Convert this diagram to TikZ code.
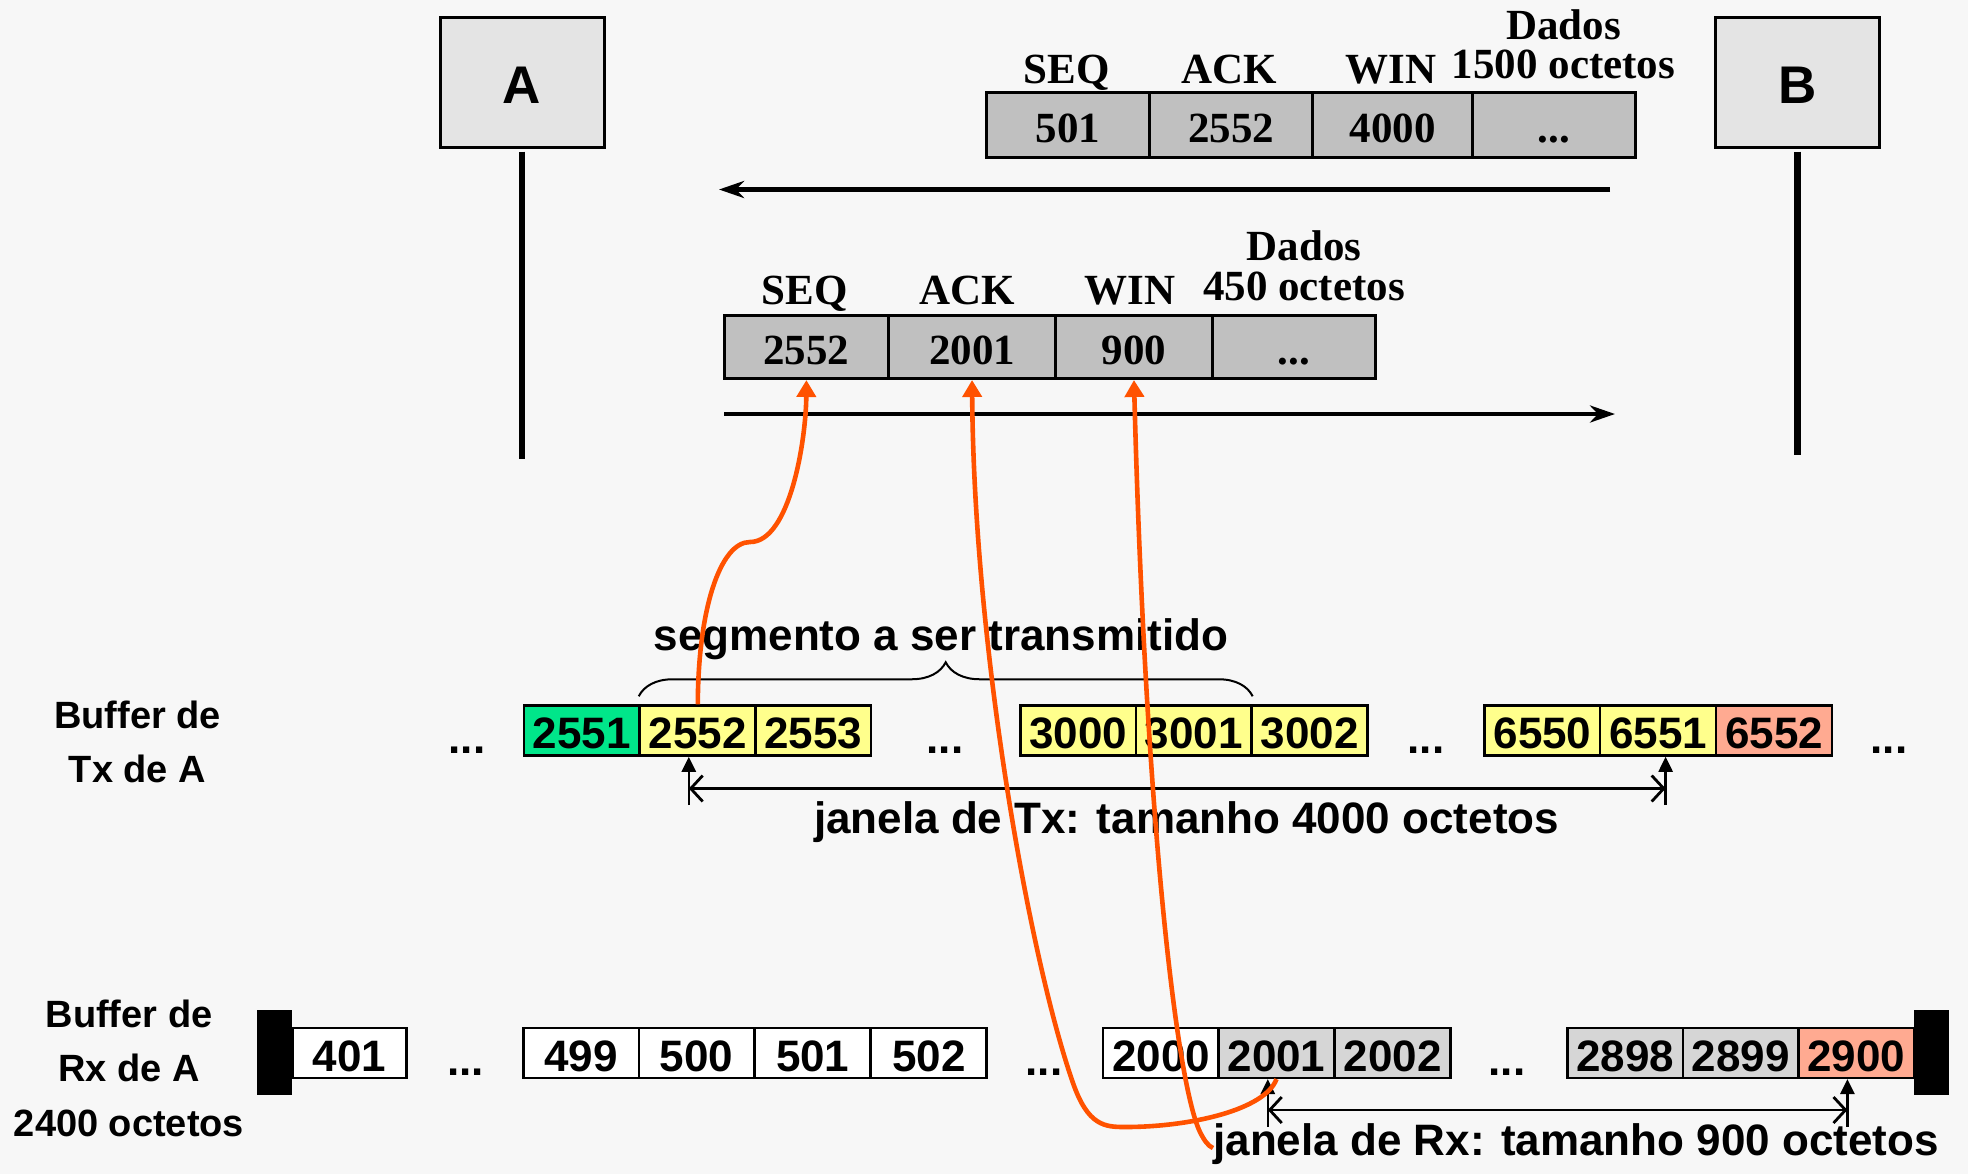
\documentclass[tikz,border=0pt]{standalone}
\usepackage{fontspec}
\setmainfont{Liberation Serif}
\setsansfont{Liberation Sans}
\usetikzlibrary{arrows.meta,decorations.pathreplacing}

\definecolor{bgcol}{HTML}{F7F7F7}
\definecolor{hostgray}{HTML}{E4E4E4}
\definecolor{pktgray}{HTML}{C0C0C0}
\definecolor{rxgray}{HTML}{D6D6D6}
\definecolor{ackgreen}{HTML}{00E68A}
\definecolor{winyellow}{HTML}{FFFF8C}
\definecolor{edgesalmon}{HTML}{FFAA91}
\definecolor{flameorange}{HTML}{FF5200}

\begin{document}
\begin{tikzpicture}[x=0.5pt,y=-0.5pt,
  hostbox/.style={draw, line width=1.5pt, fill=hostgray, minimum width=82pt,
    minimum height=65pt, inner sep=0pt, text height=21.3pt, text depth=0pt,
    font=\sffamily\bfseries\fontsize{26.5}{30}\selectfont},
  lifeline/.style={line width=3.2pt},
  pkt/.style={draw, line width=1.5pt, fill=pktgray, inner sep=0pt,
    text height=17.9pt, text depth=0pt,
    font=\rmfamily\bfseries\fontsize{21.5}{24}\selectfont},
  hdr/.style={inner sep=0pt, anchor=base,
    font=\rmfamily\bfseries\fontsize{21.5}{24}\selectfont},
  msg/.style={line width=2.2pt, -{Stealth[length=12.5pt,width=8.5pt,inset=4pt]}},
  cell/.style={draw, line width=1.25pt, minimum width=57.8pt, minimum height=25pt,
    inner sep=0pt, text height=18.2pt, text depth=0pt,
    font=\sffamily\bfseries\fontsize{22}{26}\selectfont},
  lbl/.style={inner sep=0pt, anchor=base,
    font=\sffamily\bfseries\fontsize{22}{26}\selectfont},
  buflbl/.style={inner sep=0pt, align=center,
    font=\sffamily\bfseries\fontsize{19}{27.25}\selectfont},
  endbar/.style={fill=black, minimum width=17.4pt, minimum height=42.75pt, inner sep=0pt},
  tickarrow/.style={line width=1.3pt, -{Triangle[length=7.5pt,width=7pt]}},
  winarrow/.style={line width=1.4pt,
    {Straight Barb[length=6pt,width=13pt]}-{Straight Barb[length=6pt,width=13pt]}},
  bracestyle/.style={line width=1pt, decorate, decoration={brace, amplitude=17pt}},
  seqcurve/.style={draw=flameorange, line width=2.3pt},
  curvetip/.style={-{Triangle[length=8.5pt,width=9.5pt]}}
]
% canvas
\fill[bgcol] (0,0) rectangle (1968,1174);
\useasboundingbox (0,0) rectangle (1968,1174);

% hosts and their time lines
\node[hostbox] (A) at (522,82) {A};
\node[hostbox] (B) at (1797.3,82) {B};
\coordinate (Aend) at (522,459);
\coordinate (Bend) at (1797.3,455);
\draw[lifeline] ([yshift=-1.5pt]A.south) -- (Aend);
\draw[lifeline] ([yshift=-1.5pt]B.south) -- (Bend);

% segment B -> A
\node[pkt, minimum width=81.6pt,  minimum height=32.25pt] (tSeq) at (1068.1,124.75) {501};
\node[pkt, minimum width=81.55pt, minimum height=32.25pt] (tAck) at (1231.25,124.75) {2552};
\node[pkt, minimum width=79.7pt,  minimum height=32.25pt] (tWin) at (1392.5,124.75) {4000};
\node[pkt, minimum width=81.6pt,  minimum height=32.25pt] (tDat) at (1553.8,124.75) {...};
\node[hdr] (tSeqL) at (1067,83.3) {SEQ};
\node[hdr] (tAckL) at (1229,83.3) {ACK};
\node[hdr] (tWinL) at (1391,83.3) {WIN};
\node[hdr] (tDatL) at (1563.5,39) {Dados};
\node[hdr] (tDatN) at (1563.5,78) {1500 octetos};
\coordinate (m1s) at (1610,189.5);
\coordinate (m1e) at (719,189.5);
\draw[msg] (m1s) -- (m1e);

% segment A -> B
\node[pkt, minimum width=82.2pt,  minimum height=31.75pt] (bSeq) at (806.4,346.75) {2552};
\node[pkt, minimum width=83.45pt, minimum height=31.75pt] (bAck) at (972.05,346.75) {2001};
\node[pkt, minimum width=78.45pt, minimum height=31.75pt] (bWin) at (1133.95,346.75) {900};
\node[pkt, minimum width=81.6pt,  minimum height=31.75pt] (bDat) at (1294,346.75) {...};
\node[hdr] (bSeqL) at (805,304) {SEQ};
\node[hdr] (bAckL) at (967,304) {ACK};
\node[hdr] (bWinL) at (1130,304) {WIN};
\node[hdr] (bDatL) at (1304,260) {Dados};
\node[hdr] (bDatN) at (1304,300) {450 octetos};
\coordinate (m2s) at (724,414);
\coordinate (m2e) at (1615,414);
\draw[msg] (m2s) -- (m2e);

% transmit buffer of A
\node[buflbl] (txlbl) at (137.5,742) {Buffer de\\Tx de A};
\node[lbl] (txd1) at (467,753) {...};
\node[cell, fill=ackgreen]  (c2551) at (581.7,730.5) {2551};
\node[cell, fill=winyellow] (c2552) at (697.8,730.5) {2552};
\node[cell, fill=winyellow] (c2553) at (813.3,730.5) {2553};
\node[lbl] (txd2) at (945,753) {...};
\node[cell, fill=winyellow] (c3000) at (1078.1,730.5) {3000};
\node[cell, fill=winyellow] (c3001) at (1193.6,730.5) {3001};
\node[cell, fill=winyellow] (c3002) at (1309.7,730.5) {3002};
\node[lbl] (txd3) at (1426,753) {...};
\node[cell, fill=winyellow]  (c6550) at (1542.5,730.5) {6550};
\node[cell, fill=winyellow]  (c6551) at (1658,730.5) {6551};
\node[cell, fill=edgesalmon] (c6552) at (1774,730.5) {6552};
\node[lbl] (txd4) at (1889,753) {...};

% segment to be sent
\draw[bracestyle] ([yshift=4pt]c2552.north west) -- ([yshift=4pt]c3001.north east);
\node[lbl] (segl) at (941,650) {segmento a ser transmitido};

% transmit window
\coordinate (txLb) at (688.8,805);
\coordinate (txRb) at (1665.6,805);
\coordinate (txLm) at (688.8,788.5);
\coordinate (txRm) at (1665.6,788.5);
\draw[tickarrow] (txLb) -- ([xshift=-4.5pt]c2552.south);
\draw[tickarrow] (txRb) -- ([xshift=3.8pt]c6551.south);
\draw[winarrow] (txLm) -- (txRm);
\node[lbl] (txwl) at (1186.6,833) {janela de Tx: tamanho 4000 octetos};

% receive buffer of A
\node[buflbl] (rxlbl) at (129,1068) {Buffer de\\Rx de A\\2400 octetos};
\node[endbar] (rxL) at (274.8,1052.25) {};
\node[cell, fill=white, minimum width=57.15pt] (r401) at (349.5,1052.8) {401};
\node[lbl] (rxd1) at (465.6,1075) {...};
\node[cell, fill=white] (r499) at (581.1,1052.8) {499};
\node[cell, fill=white] (r500) at (696.6,1052.8) {500};
\node[cell, fill=white] (r501) at (812.7,1052.8) {501};
\node[cell, fill=white] (r502) at (928.8,1052.8) {502};
\node[lbl] (rxd2) at (1044,1075) {...};
\node[cell, fill=white]  (r2000) at (1161,1052.8) {2000};
\node[cell, fill=rxgray] (r2001) at (1276.5,1052.8) {2001};
\node[cell, fill=rxgray] (r2002) at (1392.6,1052.8) {2002};
\node[lbl] (rxd3) at (1507,1075) {...};
\node[cell, fill=rxgray]     (r2898) at (1625.4,1052.8) {2898};
\node[cell, fill=rxgray]     (r2899) at (1740.9,1052.8) {2899};
\node[cell, fill=edgesalmon] (r2900) at (1856.3,1052.8) {2900};
\node[endbar] (rxR) at (1931.2,1052.25) {};

% receive window
\coordinate (rxLb) at (1267.8,1126.5);
\coordinate (rxRb) at (1847.4,1126.5);
\coordinate (rxLm) at (1267.8,1110);
\coordinate (rxRm) at (1847.4,1110);
\draw[tickarrow] (rxLb) -- ([xshift=-4.35pt]r2001.south);
\draw[tickarrow] (rxRb) -- ([xshift=-4.45pt]r2900.south);
\draw[winarrow] (rxLm) -- (rxRm);
\node[lbl] (rxwl) at (1576,1155) {janela de Rx: tamanho 900 octetos};

% where the header fields come from
\coordinate (winEnd) at (1213,1148);
\draw[seqcurve, curvetip] (c2552.north)
  .. controls (698,610) and (720,542) .. (750,542)
  .. controls (790,542) and (806,440) .. (bSeq.south);
\draw[seqcurve, curvetip] (r2001.south)
  .. controls (1265,1110) and (1190,1127) .. (1125,1127)
  .. controls (1105,1127) and (1088,1126) .. (1073,1083)
  .. controls (1030,960) and (974,650) .. (bAck.south);
\draw[seqcurve, curvetip] (winEnd)
  .. controls (1208,1146) and (1204,1140) .. (1200,1132)
  .. controls (1175,1080) and (1145,800) .. (bWin.south);
\end{tikzpicture}
\end{document}
